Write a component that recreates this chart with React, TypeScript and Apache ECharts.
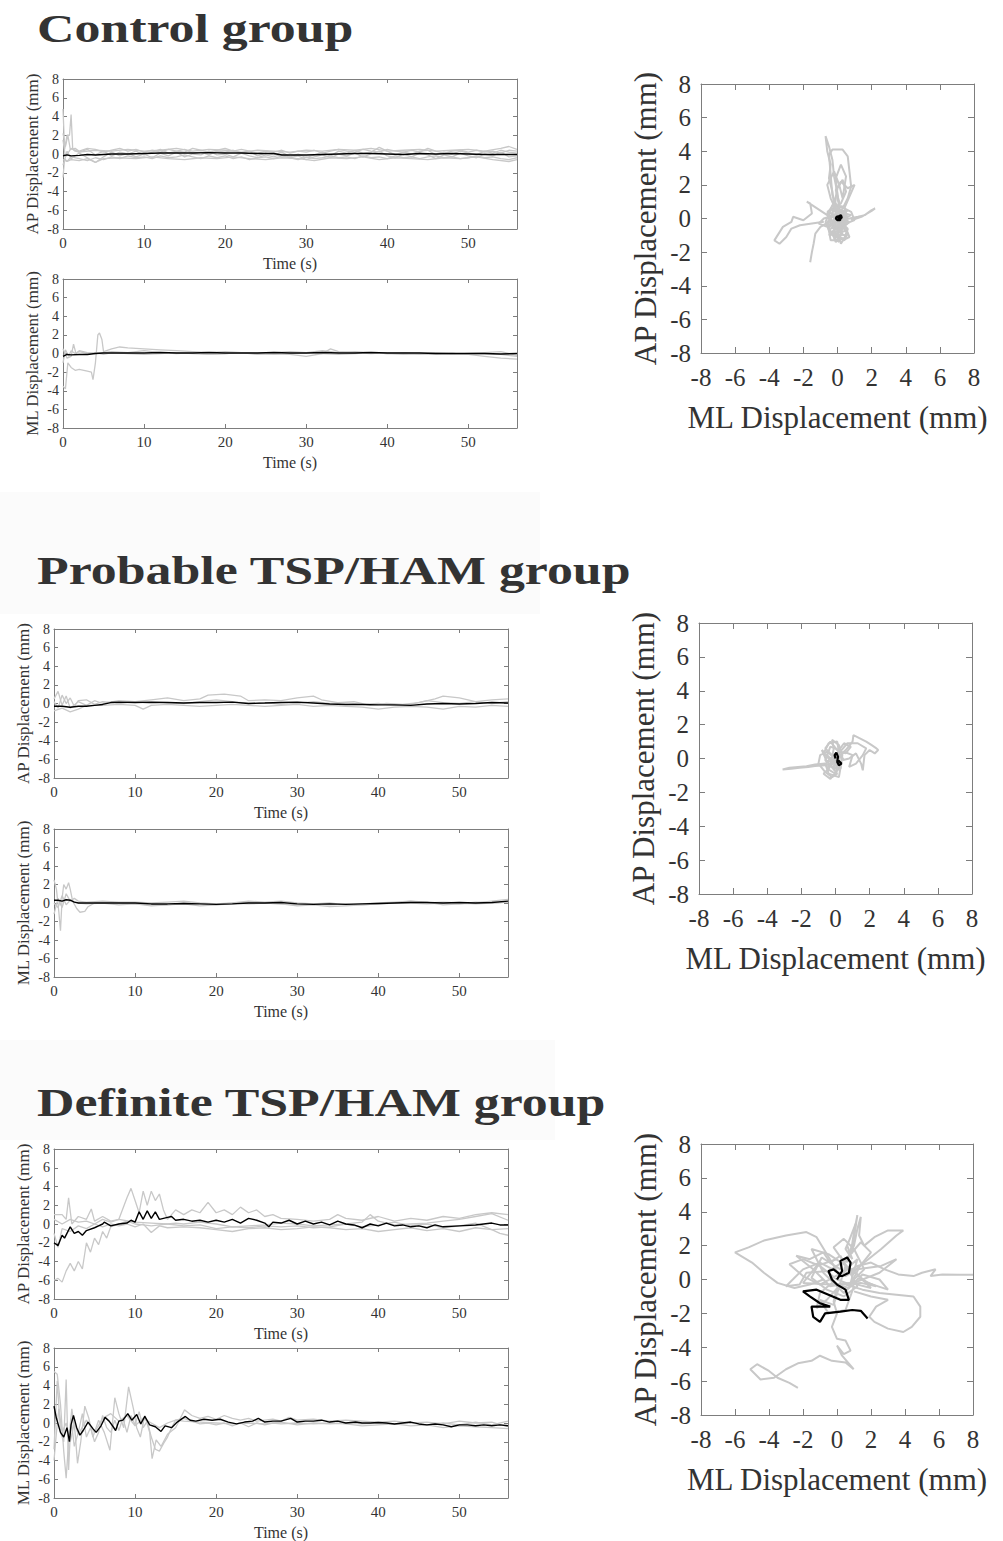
import React, { useEffect, useRef } from 'react';
import * as echarts from 'echarts';

type P = [number, number][];

// ---------- Titles ----------
const TITLES = ['Control group', 'Probable TSP/HAM group', 'Definite TSP/HAM group'];
const TS_X_TICKS = [0, 10, 20, 30, 40, 50];

// ---------- Control group: AP vs time ----------
const ctrlApMean: P = [[0,-0.2],[0.5,-0.1],[1,-0.2],[2,-0.15],[3,-0.05],[4,-0.1],[5,-0.05],[6,0],[8,0],[10,0.05],[12,0.1],[14,0.1],[16,0.1],[18,0.15],[20,0.1],[22,0.1],[24,0.05],[26,0.05],[27,-0.1],[30,-0.1],[32,-0.05],[34,0],[36,0.05],[38,0.05],[40,0],[42,-0.05],[44,0.05],[46,0],[48,0.05],[50,0],[52,-0.05],[54,-0.05],[56,-0.05]];
const ctrlApG1: P = [[0,4.8],[0.2,0.5],[0.5,2],[0.8,2.0],[1.0,4.2],[1.2,0.5],[1.5,0.3],[2,0.2],[4,0.4],[6,0.3],[8,0.5],[10,0.3],[12,0.4],[14,0.6],[16,0.3],[18,0.5],[20,0.4],[22,0.2],[24,0.4],[26,0.3],[28,0.2],[30,0.4],[32,0.3],[34,0.5],[36,0.4],[38,0.6],[40,0.3],[42,0.4],[44,0.5],[46,0.3],[48,0.4],[50,0.5],[52,0.3],[54,0.6],[55,0.8],[56,0.5]];
const ctrlApG2: P = [[0,-2.5],[0.2,-0.5],[0.5,-0.8],[1,-0.6],[2,-0.7],[3,-0.5],[4,-0.9],[5,-0.5],[7,-0.4],[9,-0.5],[11,-0.3],[13,-0.5],[15,-0.6],[17,-0.4],[19,-0.5],[21,-0.3],[23,-0.5],[25,-0.6],[27,-0.4],[29,-0.5],[31,-0.7],[33,-0.4],[35,-0.5],[37,-0.3],[39,-0.6],[41,-0.4],[43,-0.5],[45,-0.6],[47,-0.4],[49,-0.5],[51,-0.3],[53,-0.6],[55,-0.8],[56,-0.6]];
const ctrlApG3: P = [[0,1.5],[0.3,-0.3],[1,0.6],[2,0.2],[3,0.5],[4,-0.1],[5,0.3],[6,-0.2],[7,0.2],[8,0],[9,0.3],[10,-0.1],[11,0.2],[12,0.5],[13,0.1],[14,0.3],[15,0.5],[16,0.1],[17,0.2],[18,-0.1],[19,0.3],[20,0.2],[21,0.4],[22,0.1],[23,0.3],[24,-0.2],[25,0.1],[26,-0.1],[27,0.2],[28,-0.3],[29,0],[30,-0.4],[31,-0.1],[32,0.2],[33,-0.2],[34,0.3],[35,0.1],[36,0.4],[37,0.1],[38,0.2],[39,0.7],[40,0.3],[41,-0.1],[42,0.2],[43,0],[44,0.3],[45,0.4],[46,-0.1],[47,0.2],[48,0],[49,0.3],[50,0.1],[51,-0.1],[52,0.3],[53,0.1],[54,0.4],[55,0.2],[56,0.1]];
const ctrlApG4: P = [[0,-1.2],[0.5,0.3],[1,-0.5],[2,0.1],[3,-0.4],[4,-0.9],[5,-0.3],[6,0.2],[7,-0.2],[8,0.1],[9,-0.3],[10,0],[11,-0.4],[12,0.1],[13,-0.2],[14,0.2],[15,-0.3],[16,0],[17,-0.1],[18,0.3],[19,-0.1],[20,0],[21,-0.3],[22,0.1],[23,-0.2],[24,-0.4],[25,-0.1],[26,-0.3],[27,0],[28,-0.4],[29,-0.2],[30,-0.6],[31,-0.3],[32,-0.1],[33,-0.4],[34,0],[35,-0.2],[36,0.1],[37,-0.3],[38,0],[39,0.3],[40,-0.2],[41,-0.4],[42,0],[43,-0.3],[44,0.1],[45,-0.1],[46,-0.5],[47,-0.1],[48,-0.3],[49,0.1],[50,-0.2],[51,-0.4],[52,0],[53,-0.2],[54,0.2],[55,-0.3],[56,-0.2]];
const ctrlApG5: P = [[0,2.2],[0.3,0.8],[0.6,2.0],[0.9,0.5],[1.5,0.6],[2,0.3],[3,0.6],[4,0.5],[5,0.2],[6,0.4],[7,0.6],[8,0.3],[9,0.5],[10,0.2],[11,0.4],[12,0.2],[13,0.5],[14,0.3],[15,0.2],[16,0.6],[17,0.4],[18,0.2],[19,0.4],[20,0.6],[21,0.3],[22,0.5],[23,0.3],[24,0.1],[25,0.3],[26,0.2],[27,0.4],[28,0.1],[29,0.3],[30,0.2],[31,0.4],[32,0.1],[33,0.3],[34,0.5],[35,0.3],[36,0.2],[37,0.5],[38,0.3],[39,0.2],[40,0.5],[41,0.3],[42,0.2],[43,0.4],[44,0.2],[45,0.6],[46,0.3],[47,0.1],[48,0.3],[49,0.4],[50,0.2],[51,0.4],[52,0.2],[53,0.3],[54,0.1],[55,0.4],[56,0.3]];
const ctrlApG6: P = [[0,-0.6],[0.5,-0.8],[1,-0.3],[2,-0.5],[3,-0.7],[4,-0.4],[5,-0.6],[6,-0.3],[7,-0.5],[8,-0.2],[9,-0.4],[10,-0.3],[11,-0.5],[12,-0.2],[13,-0.4],[14,-0.3],[15,-0.1],[16,-0.3],[17,-0.5],[18,-0.2],[19,-0.4],[20,-0.2],[21,-0.5],[22,-0.3],[23,-0.6],[24,-0.4],[25,-0.3],[26,-0.5],[27,-0.2],[28,-0.4],[29,-0.6],[30,-0.3],[31,-0.5],[32,-0.4],[33,-0.2],[34,-0.4],[35,-0.3],[36,-0.5],[37,-0.2],[38,-0.4],[39,-0.3],[40,-0.5],[41,-0.2],[42,-0.4],[43,-0.3],[44,-0.5],[45,-0.3],[46,-0.2],[47,-0.4],[48,-0.3],[49,-0.5],[50,-0.4],[51,-0.2],[52,-0.4],[53,-0.3],[54,-0.5],[55,-0.6],[56,-0.4]];

// ---------- Control group: ML vs time ----------
const ctrlMlMean: P = [[0,-0.3],[0.5,-0.1],[1,-0.15],[2,-0.1],[3,-0.1],[4,0],[5,0.05],[6,0.05],[8,0.05],[10,0.05],[12,0.1],[14,0.05],[16,0.05],[18,0.1],[20,0.05],[22,0.05],[24,0.05],[26,0.1],[28,0.05],[30,0.05],[32,0.1],[34,0.05],[36,0.05],[38,0.1],[40,0.05],[42,0.05],[44,0.05],[46,0],[48,0],[50,0],[52,0],[54,-0.05],[56,0]];
const ctrlMlG1: P = [[0,-3.5],[0.3,-3.8],[0.6,-1],[1,-1.5],[1.5,-1.8],[2,-1.7],[3,-1.9],[3.5,-2.0],[3.7,-2.8],[4,-1],[4.3,2.0],[4.5,2.2],[4.8,1.5],[5,0.2],[6,0.5],[7,0.7],[8,0.6],[10,0.5],[12,0.4],[14,0.3],[16,0.2],[18,0.1],[20,0.2],[22,0.1],[24,0],[26,0.1],[28,0.2],[30,0.1],[32,0.3],[34,0.1],[36,0.2],[38,0.1],[40,0],[42,0.1],[44,0],[46,-0.1],[48,0],[50,-0.1],[52,-0.3],[54,-0.5],[56,-0.6]];
const ctrlMlG2: P = [[0,0.5],[0.5,-0.5],[1,-0.3],[1.3,1.0],[1.6,0],[2,0.3],[3,0.1],[4,0],[6,0.2],[8,0.1],[10,0.3],[12,0.1],[14,0],[16,0.1],[18,-0.1],[20,0],[22,0.1],[24,-0.1],[26,0],[28,-0.1],[30,-0.3],[32,0],[33,0.5],[34,0.2],[36,0.1],[38,0],[40,0.1],[42,0],[44,-0.1],[46,0],[48,-0.1],[50,0],[52,0.1],[54,0.2],[56,-0.2]];
const ctrlMlG3: P = [[0,-1],[0.3,0.4],[0.7,-0.3],[1,0.3],[1.5,0],[2,0.2],[3,0],[4,0.1],[5,-0.1],[6,0.1],[8,0],[10,-0.1],[12,0],[14,0.1],[16,0],[18,-0.1],[20,0],[22,0.1],[24,0],[26,-0.1],[28,0],[30,0.1],[32,0],[34,-0.1],[36,0],[38,0.1],[40,0],[42,-0.1],[44,0],[46,0.1],[48,0],[50,-0.1],[52,0],[54,-0.1],[56,-0.3]];

// ---------- Control group: AP vs ML ----------
const ctrlXyMean: P = [[0,0],[0.1,0.1],[0.2,0.05],[0.15,-0.1],[0,-0.1],[-0.1,0],[-0.05,0.1],[0.1,0.15],[0.2,0.2],[0.25,0.05],[0.1,-0.05],[0,0]];
const ctrlXyG1: P = [[0,0],[-0.2,0.8],[-0.3,1.6],[-0.5,2.4],[-0.4,3.2],[-0.6,4.0],[-0.7,4.9],[-0.5,4.3],[-0.3,3.5],[-0.2,2.5],[0,1.5],[0.1,0.5]];
const ctrlXyG2: P = [[0.1,0.4],[-0.3,1.4],[-0.4,2.6],[-0.5,3.8],[-0.3,4.1],[0.3,4.1],[0.6,3.7],[0.7,2.8],[0.8,1.9],[0.6,1.2],[0.3,0.6],[0,0.2]];
const ctrlXyG3: P = [[0.2,-0.1],[0.7,0.0],[1.2,0.1],[1.6,0.2],[2.0,0.5],[2.2,0.6],[2.0,0.45],[1.4,0.1],[0.8,-0.1]];
const ctrlXyG4: P = [[0,0],[-0.6,0.2],[-1.2,0.6],[-1.8,1.0],[-1.6,0.9],[-1.5,0.3],[-2.0,-0.1],[-2.6,0.1],[-2.7,-0.2],[-3.2,-0.5],[-3.7,-1.3],[-3.4,-1.5],[-3.0,-1.1],[-2.7,-0.6],[-2.2,-0.4],[-1.5,-0.3],[-0.8,-0.2]];
const ctrlXyG5: P = [[0,0],[-0.5,-0.2],[-1.0,-0.5],[-1.3,-0.9],[-1.4,-1.5],[-1.5,-2.0],[-1.6,-2.6]];
const ctrlXyG6: P = [[0,0],[0.4,0.3],[-0.3,0.6],[0.5,-0.4],[-0.4,-0.6],[0.6,0.5],[-0.5,0.1],[0.3,-0.9],[-0.2,-1.2],[0.1,-1.4],[0.0,-0.8],[0.7,-0.2],[-0.6,0.4],[0.2,0.9],[0.5,1.6],[0.3,2.3],[0.0,1.8],[-0.3,0.3],[0.6,-0.7],[-0.5,-1.0],[0.4,0.0],[-0.2,0.5],[0.8,0.2],[-0.3,-0.3],[0.2,-0.6],[0,0]];
const ctrlXyG7: P = [[0,0],[0.3,-0.5],[0.6,-0.9],[0.4,-1.3],[-0.1,-1.1],[-0.5,-0.7],[-0.7,-0.2],[-0.4,0.5],[0.2,0.7],[0.8,0.4],[1.0,-0.1],[0.5,-0.3],[-0.2,0.2],[-0.8,0.0],[-1.1,-0.3],[-0.6,-0.5],[0,-0.2]];
const ctrlXyG8: P = [[0,0.2],[0.1,1.0],[-0.1,1.7],[0.2,2.2],[0.6,1.8],[1.0,2.0],[0.7,1.3],[0.4,0.6]];
const ctrlXyG9: P = [[0,0],[-0.3,-0.4],[0.2,-0.8],[0.5,-0.3],[0.3,0.4],[-0.2,0.9],[-0.6,0.3],[-0.4,-0.3],[0.1,-0.5],[0.6,0.1],[0.2,0.5],[-0.1,0]];
const ctrlXyG10: P = [[0,0],[0.2,-1.0],[-0.1,-1.4],[-0.3,-0.9],[0.1,-0.3],[0.5,-0.6],[0.7,-1.1],[0.3,-1.3]];
const ctrlXyG11: P = [[0,0.3],[-0.4,1.2],[-0.6,2.0],[-0.2,2.8],[0.1,2.0],[0.3,1.2],[0.5,2.5],[0.2,3.2],[-0.1,2.4],[0,1.0]];
const ctrlXyG12: P = [[0,-0.2],[-0.5,-0.5],[-0.3,-1.0],[0.4,-1.2],[0.6,-0.6],[0.2,-0.2],[-0.5,0.2],[-0.3,0.8],[0.4,0.7],[0.5,0.1],[-0.2,-0.7],[0.1,-1.3],[-0.4,-1.3],[-0.6,-0.2],[0,0.4]];
const ctrlXyG13: P = [[-0.2,0],[0.3,-0.6],[-0.4,-0.9],[0.5,-1.0],[0.2,-1.5],[-0.1,-0.4],[0.6,-0.3],[0.3,0.3],[-0.6,-0.5],[-0.2,0.6],[0.5,0.4],[0,-0.1]];

// ---------- Probable group: AP vs time ----------
const probApMean: P = [[0,-0.3],[1,-0.3],[2,-0.4],[3,-0.3],[4,-0.3],[5,-0.2],[6,-0.1],[7,0.1],[8,0.15],[10,0.1],[12,0.15],[14,0.1],[16,0.05],[18,0.1],[20,0.1],[22,0.15],[24,0],[26,0.05],[28,0.1],[30,0.15],[32,0.05],[34,-0.05],[36,-0.1],[38,-0.1],[40,-0.15],[42,-0.15],[44,-0.2],[46,-0.05],[48,0],[50,-0.05],[52,0],[54,0.1],[56,0.05]];
const probApG1: P = [[0,0.5],[0.5,1.3],[1,-0.2],[1.5,0.8],[2,-0.5],[3,0.2],[4,-0.2],[5,0.3],[6,0],[8,0.3],[10,0.2],[12,0.4],[14,0.6],[16,0.3],[18,0.5],[19,0.9],[21,1.0],[23,0.8],[24,0.3],[26,0.4],[28,0.3],[30,0.6],[32,0.8],[33,0.4],[35,0.1],[37,0.2],[39,-0.2],[41,0],[43,-0.1],[45,0.1],[47,0.5],[48,0.8],[50,0.6],[52,0.2],[54,0.4],[56,0.5]];
const probApG2: P = [[0,-0.8],[1,-0.5],[2,-0.9],[3,-0.6],[4,-0.2],[6,-0.2],[8,-0.1],[10,-0.2],[11,-0.6],[12,-0.2],[14,-0.1],[16,-0.2],[18,-0.3],[20,-0.2],[22,-0.1],[24,-0.2],[26,-0.3],[28,-0.2],[30,-0.1],[32,-0.3],[34,-0.2],[36,-0.3],[38,-0.4],[40,-0.6],[42,-0.4],[44,-0.3],[46,-0.4],[48,-0.6],[50,-0.3],[52,-0.4],[54,-0.2],[56,-0.3]];
const probApG3: P = [[0,0.2],[0.5,-0.5],[1,0.9],[1.5,0],[2,0.6],[2.5,-0.3],[3,0.3],[4,0.4],[5,-0.1],[6,0.2],[8,0],[10,0.2],[12,0],[14,0.1],[16,0],[18,0.2],[20,0.4],[22,0.2],[24,0],[26,0.1],[28,-0.1],[30,0],[32,0.2],[34,0],[36,0.1],[38,-0.1],[40,0],[42,-0.2],[44,-0.1],[46,0.3],[48,0.1],[50,0],[52,0.2],[54,0],[56,0.2]];

// ---------- Probable group: ML vs time ----------
const probMlMean: P = [[0,0.3],[0.5,0.3],[1,0.2],[1.5,0.35],[2,0.3],[2.5,0.1],[3,0],[4,0],[6,0],[8,0],[10,0],[12,-0.1],[14,-0.1],[16,-0.05],[18,-0.1],[20,-0.15],[22,-0.1],[24,0],[26,0],[28,0.05],[30,-0.1],[32,-0.15],[34,-0.1],[36,-0.15],[38,-0.1],[40,-0.05],[42,0],[44,0.05],[46,0.05],[48,0],[50,0.05],[52,0],[54,0.05],[56,0.2]];
const probMlG1: P = [[0,2.5],[0.3,1.5],[0.6,-1],[0.8,-3],[1,0.5],[1.2,2],[1.5,1.5],[1.8,2.2],[2,1.5],[2.3,0.2],[2.8,-0.6],[3.2,-1.0],[3.8,-0.9],[4.2,-0.4],[5,0],[6,0.1],[8,0],[10,-0.1],[12,-0.2],[14,-0.2],[16,-0.1],[18,-0.3],[20,-0.2],[22,-0.1],[24,0.1],[26,0],[28,-0.1],[30,-0.3],[32,-0.2],[34,-0.4],[36,-0.3],[38,-0.2],[40,-0.1],[42,0],[44,0.2],[46,0.1],[48,-0.2],[50,-0.1],[52,0],[54,0.2],[56,0.4]];
const probMlG2: P = [[0,-1.2],[0.5,0.5],[1,-0.5],[1.5,1.0],[2,0.2],[2.5,0.5],[3,0.2],[4,0.1],[6,0.2],[8,0.1],[10,0.1],[12,0],[14,0.1],[16,0.2],[18,0],[20,-0.1],[22,0],[24,0.2],[26,0.1],[28,0.2],[30,0],[32,-0.1],[34,0],[36,-0.2],[38,-0.1],[40,0],[42,0.1],[44,0.2],[46,0],[48,0.1],[50,0],[52,-0.1],[54,0],[56,0.1]];
const probMlG3: P = [[0,0],[0.5,-0.5],[1,0.8],[1.5,-0.2],[2,0.3],[3,0],[4,-0.1],[6,0],[8,-0.2],[10,-0.1],[12,-0.3],[14,-0.2],[16,0],[18,-0.1],[20,-0.2],[22,0],[24,-0.1],[26,0],[28,-0.1],[30,-0.2],[32,-0.1],[34,-0.2],[36,-0.1],[38,-0.2],[40,-0.1],[42,0],[44,0],[46,-0.1],[48,0],[50,-0.1],[52,0.1],[54,0],[56,0.1]];

// ---------- Probable group: AP vs ML ----------
const probXyMean: P = [[0,0],[-0.05,0.2],[0.05,0.35],[0.15,0.1],[0.1,-0.2],[0.2,-0.4],[0.35,-0.3],[0.2,-0.15],[0.05,-0.05]];
const probXyG1: P = [[0,-0.3],[-0.6,-0.4],[-1.2,-0.45],[-1.6,-0.5],[-2.1,-0.55],[-2.6,-0.6],[-3.1,-0.65],[-2.7,-0.55],[-2.2,-0.5],[-1.7,-0.45],[-1.2,-0.35],[-0.6,-0.3]];
const probXyG2: P = [[0.2,0.1],[0.6,0.5],[1.0,1.0],[1.05,1.38],[1.4,1.2],[1.8,1.0],[2.1,0.8],[2.4,0.6],[2.5,0.5],[2.3,0.3],[2.0,0.5],[1.7,0.2],[1.6,-0.7],[1.5,-0.3],[1.2,0.3],[0.8,0.0],[0.4,-0.1]];
const probXyG3: P = [[0.1,0.2],[0.7,0.9],[1.3,0.9],[1.8,0.6],[1.6,0.2],[1.2,-0.3],[0.8,-0.5],[1.0,0.2],[0.5,0.4],[0.2,0]];
const probXyG4: P = [[0,0],[-0.5,0.4],[-0.9,0.2],[-1.0,-0.3],[-0.6,-0.8],[-0.2,-1.1],[0.1,-0.9],[-0.3,-0.4],[-0.1,0.6],[-0.2,1.1],[0.2,0.8],[0.4,0.2],[0.3,-0.6],[-0.4,0.1],[-0.8,0.5],[-0.5,-0.2],[0,0.3],[0.2,-0.3],[-0.1,-0.7],[0,0]];
const probXyG5: P = [[0,0],[0.3,0.4],[0.6,0.3],[0.9,0.7],[0.5,0.9],[0.2,0.5],[-0.3,0.7],[-0.6,-0.1],[-0.2,-0.5],[0.3,-0.2]];
const probXyG6: P = [[0,0],[-0.4,-0.6],[-0.7,-0.9],[-0.3,-1.2],[0.2,-0.6],[-0.2,0.2],[-0.6,0.6],[-0.3,1.0],[0.1,0.5],[0.5,-0.1]];
const probXyG7: P = [[0,0],[-0.6,-0.3],[-0.4,-0.9],[0.2,-1.1],[0.3,-0.5],[-0.2,-0.2],[-0.7,0.3],[-0.4,0.9],[0.1,1.0],[0.2,0.4],[-0.5,-0.6],[0,-0.9],[0.3,0.2]];

// ---------- Definite group: AP vs time ----------
const defApMean: P = [[0,-2],[0.5,-2.3],[1,-1.2],[1.3,-1.5],[2,-0.3],[2.5,-1.0],[3,-0.8],[3.5,-1.2],[4,-0.7],[5,-0.4],[5.5,-0.2],[6,0],[6.2,0.2],[7,-0.2],[8,0],[9,0.1],[9.5,0.4],[10,0.2],[10.5,1.3],[11,0.5],[11.5,1.4],[12,0.6],[12.5,1.3],[13,0.5],[14,0.7],[14.5,0.8],[15,0.4],[16,0.5],[17,0.3],[18,0.4],[19,0.2],[20,0.4],[21,0.2],[22,0.5],[23,0.1],[24,0.6],[25,0.4],[26,0.1],[26.5,-0.3],[27,0.2],[28,0.1],[29,0.4],[30,0],[31,0.3],[32,0],[33,0.2],[34,-0.1],[35,0.3],[36,0],[37,-0.1],[38,-0.4],[39,0],[40,-0.2],[41,0.1],[42,-0.2],[43,-0.1],[44,-0.3],[45,-0.2],[46,-0.4],[47,-0.1],[48,-0.3],[50,-0.2],[52,-0.1],[54,0.1],[55,-0.1],[56,-0.1]];
const defApG1: P = [[0,-6],[0.5,-5.8],[1,-6.2],[1.5,-5],[2,-4.2],[2.5,-5],[3,-4],[3.5,-4.8],[4,-2],[4.5,-3],[5,-1.5],[5.5,-2.2],[6,-0.8],[6.5,-1.5],[7,-0.3],[8,0],[9,0.3],[10,0],[11,-0.1],[12,-0.2],[13,-0.1],[14,0],[15,0.1],[16,0],[18,0.2],[20,0],[22,-0.3],[24,-0.2],[26,-0.1],[28,0.1],[30,0],[32,-0.2],[34,-0.1],[36,0],[38,-0.3],[40,-0.1],[42,0.2],[44,-0.2],[46,0],[48,-0.4],[50,-0.2],[52,0.1],[54,-0.6],[55,-1.0],[56,-1.2]];
const defApG2: P = [[0,0.5],[1,0],[2,0.5],[3,0.2],[4,0.3],[5,0],[6,0.5],[7,0.2],[8,0.5],[9,2.8],[9.5,3.8],[10,2.5],[10.5,1.2],[11,3.5],[11.5,2],[12,3.5],[12.5,2.5],[13,3.2],[13.5,1.5],[14,0.5],[15,1.5],[16,1.0],[17,1.5],[18,1.2],[19,2.3],[20,1.2],[21,1.5],[22,1.0],[23,1.8],[24,1.2],[25,1.5],[26,0.8],[27,1.0],[28,0.6],[30,0.5],[32,0.3],[34,0.5],[35,1.0],[36,0.6],[38,0.4],[40,0.8],[42,0.3],[44,0.6],[46,0.4],[48,0.8],[50,0.6],[52,1.0],[54,1.2],[56,1.0]];
const defApG3: P = [[0,1.0],[1,1.0],[1.5,0.5],[1.8,2.8],[2.2,0],[3,0.8],[4,0.5],[4.6,1.6],[5,0.3],[6,0.8],[7,0.3],[8,0.5],[10,0.2],[12,0.1],[14,0],[16,-0.2],[18,-0.1],[20,-0.5],[22,-0.3],[24,-0.4],[26,-0.2],[28,-0.3],[30,-0.2],[32,-0.4],[34,-0.3],[36,0],[38,0.2],[39,1.0],[40,0.3],[42,-0.1],[44,0],[46,0.1],[48,0.3],[50,0.5],[52,0.8],[54,1.1],[56,0.4]];
const defApG4: P = [[0,-1.0],[0.5,-2.5],[1,-0.5],[2,-0.8],[3,-0.2],[4,-0.5],[5,0],[6,-0.3],[7,0],[8,-0.2],[9,0],[10,-0.3],[11,0],[12,-0.9],[13,-0.2],[14,-0.4],[16,-0.3],[18,-0.4],[20,-0.6],[22,-0.8],[24,-0.5],[26,-0.4],[28,-0.6],[30,-0.5],[32,-0.3],[34,-0.4],[36,-0.6],[38,-0.5],[40,-0.8],[42,-0.6],[44,-0.4],[46,-0.7],[48,-0.5],[50,-0.8],[52,-0.4],[54,-0.6],[56,-0.5]];

// ---------- Definite group: ML vs time ----------
const defMlMean: P = [[0,1.8],[0.3,0.5],[0.8,-1.0],[1.2,-1.5],[1.6,-0.5],[1.9,-2.0],[2.1,-0.2],[2.4,0.8],[2.8,-0.5],[3.2,-1.3],[3.6,-0.8],[4.2,0.1],[4.8,-0.6],[5.2,-1.0],[5.8,-0.3],[6.3,0.6],[6.8,0.2],[7.3,-0.4],[7.6,-0.8],[8,0.2],[8.5,0.3],[9.1,1.0],[9.6,0.3],[10.2,0.9],[10.7,-0.1],[11.2,0.7],[11.8,-0.2],[12.5,-0.4],[13.2,-0.9],[13.7,-0.3],[14.5,-0.5],[15.2,0.1],[16.2,0.7],[16.8,0.3],[17.5,0.2],[18.5,0.4],[19.5,0.3],[20.5,0.4],[21.5,0.1],[22.5,-0.1],[23.5,0.1],[24.5,0.2],[25.2,0.5],[26,0.1],[27,0.2],[28,0.2],[29.2,0.5],[30,0.1],[31,0.2],[32,0.2],[33,0.3],[34,0.1],[35,0.2],[36,0],[37.2,0.1],[38,0],[39,0],[40,0.05],[41,0],[42,-0.1],[43,0],[44,0.1],[45,-0.1],[46,-0.2],[47,-0.1],[48,-0.2],[49,-0.4],[50,-0.2],[51,-0.2],[52,-0.3],[53,-0.2],[54,-0.3],[55,-0.2],[56,-0.3]];
const defMlG1: P = [[0,5.5],[0.4,5.2],[0.8,2],[1.2,-3],[1.5,-5.9],[1.8,-2],[2.2,1.5],[2.6,-1],[2.9,-4.3],[3.3,-2],[3.8,1.8],[4.3,0.5],[4.8,-1.5],[5.5,0.3],[6.2,-1],[6.9,-2.9],[7.5,2.7],[8,1],[8.6,-0.5],[9.2,3.85],[9.8,1.5],[10.2,-0.5],[10.65,-1.5],[11.2,0.8],[11.8,-1],[12.1,-3.8],[12.6,-1.8],[13.2,-2.5],[14,-1.2],[15,-0.5],[16.1,1.4],[17,0.8],[18,0.5],[19,0.7],[20,0.4],[21,0.8],[22,0.5],[23,0.3],[24,0.5],[25,0.2],[26,0.3],[27,0.4],[28,0.2],[29,0.6],[30,0.3],[32,0.4],[34,0.2],[36,0.3],[38,0.2],[40,0.1],[42,0.2],[44,0],[46,0.1],[48,-0.1],[50,0.2],[52,0],[54,0.1],[56,-0.4]];
const defMlG2: P = [[0,-2.8],[0.4,4.5],[0.8,-1],[1.2,-2],[1.5,4.65],[1.8,-5],[2.1,0.5],[2.5,-2.5],[3,-1],[3.5,1],[4,-1.5],[4.5,-0.5],[5,-2],[5.5,-1],[6,0.8],[6.5,-0.5],[7,-1],[7.5,0.3],[8,-0.8],[8.5,0.5],[9,-1],[9.5,0.8],[10,-0.2],[10.5,1.2],[11,-0.5],[11.5,0.2],[12,-1.5],[12.5,-2.8],[13,-3],[13.5,-2.2],[14,-1.5],[14.5,-0.5],[15,0.3],[16,0.5],[17,0.2],[18,-0.1],[19,0],[20,-0.2],[21,0],[22,-0.3],[23,0],[24,-0.4],[25,0],[26,-0.2],[27,0],[28,-0.1],[30,0],[32,-0.1],[34,0],[36,-0.1],[38,-0.3],[40,-0.2],[42,-0.1],[44,-0.3],[46,-0.2],[48,-0.5],[50,-0.3],[52,-0.4],[54,-0.5],[56,-0.6]];
const defMlG3: P = [[0,-4],[0.3,-1],[0.6,1.5],[1,-1],[1.5,0],[2,-2],[2.5,0],[3,-1.2],[4,0.3],[5,-1],[6,0.5],[7,1],[8,0.2],[9,0.8],[10,-0.3],[11,0.5],[12,0],[13,-0.5],[14,0],[15,0.3],[16,0.2],[18,0.1],[20,0],[22,-0.1],[24,0],[26,-0.1],[28,0.1],[30,-0.2],[32,0],[34,-0.1],[36,0],[38,-0.1],[40,0],[42,-0.1],[44,0],[46,-0.2],[48,0],[50,-0.2],[52,0.1],[54,-0.2],[56,0.2]];

// ---------- Definite group: AP vs ML ----------
const defXyMean: P = [[0,0],[0.3,0.5],[0.2,1.1],[0.6,1.3],[0.8,1.0],[0.7,0.4],[0.3,0.2],[-0.2,0.6],[-0.5,0.5],[-0.3,0],[0,-0.3],[0.5,-0.6],[0.7,-1.2],[0.2,-1.2],[-0.5,-0.9],[-1.2,-0.6],[-2.0,-0.7],[-1.6,-1.0],[-1.0,-1.4],[-0.4,-1.6],[-1.5,-1.6],[-1.4,-2.2],[-1.0,-2.5],[-0.7,-2.0],[0.2,-1.9],[0.9,-1.8],[1.4,-1.85],[1.8,-2.3]];
const defXyG1: P = [[0,0.5],[-0.6,1.5],[-1.2,2.5],[-1.8,2.8],[-3.0,2.6],[-4.3,2.3],[-5.2,1.9],[-6.0,1.6],[-5.0,1.0],[-4.3,0.4],[-3.5,-0.2],[-2.5,-0.5],[-1.6,-0.3],[-0.8,0]];
const defXyG2: P = [[0.3,0.2],[1.2,0.8],[2.0,1.0],[2.8,0.6],[3.6,0.3],[4.5,0.2],[5.0,0.4],[5.8,0.6],[5.5,0.2],[6.2,0.3],[7.2,0.28],[8.0,0.28]];
const defXyG3: P = [[0.5,1.0],[1.0,2.0],[1.2,3.0],[1.4,3.7],[1.3,2.6],[1.6,2.0],[2.2,2.5],[3.0,2.9],[3.9,2.9],[3.5,2.6],[2.6,1.8],[1.6,1.0],[0.8,0.3]];
const defXyG4: P = [[0.5,-0.3],[1.5,-0.6],[2.5,-0.8],[3.5,-0.9],[4.5,-1.0],[4.9,-1.6],[4.9,-2.2],[4.4,-2.8],[3.9,-3.1],[3.0,-2.9],[2.2,-2.5],[1.9,-2.2],[2.3,-1.6],[3.0,-1.2],[2.0,-1.0],[1.0,-0.7]];
const defXyG5: P = [[0,-0.5],[-0.2,-1.3],[0,-2.0],[-0.3,-2.8],[0,-3.5],[0.5,-3.6],[0.8,-4.2],[0.4,-4.4],[0,-3.9],[0.3,-4.5],[0.98,-5.3],[0.5,-4.9],[-0.3,-4.8],[-1.0,-4.5],[-1.5,-4.8],[-2.3,-4.95],[-3.0,-5.3],[-3.7,-5.8],[-4.5,-5.9],[-5.1,-5.3],[-4.7,-5.0],[-4.0,-5.4],[-3.5,-5.8],[-2.8,-6.1],[-2.3,-6.4]];
const defXyG6: P = [[0,0],[-1.0,0.8],[-2.0,1.2],[-2.8,0.9],[-2.0,0.2],[-1.0,-0.3],[0.3,0.4],[1.2,1.2],[0.8,-0.2],[2.0,-0.5],[1.0,0.5],[-0.5,1.5],[-1.5,1.8],[-0.8,0.4],[0.4,-0.8],[1.5,0.3],[2.5,0.0],[3.0,-0.6],[1.8,-0.2],[0.5,0.8],[-0.2,-1.5],[-1.0,-1.2],[-0.5,-2.0],[0.5,-1.8],[1.0,-0.4],[0,0]];
const defXyG7: P = [[0.8,2.5],[0.5,1.8],[0.9,1.2],[0.6,2.0],[1.1,3.3],[0.9,1.6],[0.3,1.0],[-0.5,0.5],[-1.8,0.4],[-2.2,-0.3],[-3.0,-0.4],[-2.0,0.6],[-1.0,1.0],[0.5,0.2],[1.3,0.7],[0.7,-0.5],[-0.3,-0.2],[-1.0,-0.8],[-1.2,-1.7],[-0.6,-1.2],[0.2,-0.3],[1.4,-0.2],[2.3,-0.4],[1.2,0.1]];
const defXyG8: P = [[0,0],[0.6,0.6],[0.2,1.4],[-0.4,1.0],[-0.8,1.6],[-1.6,1.2],[-2.4,1.4],[-1.4,0.6],[-0.4,-0.4],[0.8,-0.2],[1.6,0.6],[1.0,1.8],[0.4,2.4],[-0.2,1.9],[0.5,0.9],[1.2,-0.4],[0.4,-1.0],[-0.6,-0.6],[-1.5,0.1],[-0.9,1.3],[0.2,0.6]];
const defXyG9: P = [[0.6,1.0],[1.0,2.5],[1.2,3.8],[1.0,2.8],[0.8,1.5],[1.4,2.2],[2.0,1.6],[1.2,0.6],[2.6,0.8],[3.5,1.2],[2.5,0.4],[1.0,-0.2],[-0.4,-0.3],[-2.0,-0.2],[-1.2,0.8],[0,1.2]];

// ---------- styling ----------
const GRAY = '#c8c8c8';
const BLACK = '#000000';
const AXIS = '#7d7d7d';
const TXT = '#333333';
const FONT = 'Liberation Serif';

interface Panel {
  left: number; top: number; width: number; height: number;
  kind: 'time' | 'xy';
  yName: string;
  grays: P[];
  mean: P;
}

const PANELS: Panel[] = [
  { left: 63, top: 79, width: 454, height: 150, kind: 'time', yName: 'AP Displacement (mm)', grays: [ctrlApG1, ctrlApG2, ctrlApG3, ctrlApG4, ctrlApG5, ctrlApG6], mean: ctrlApMean },
  { left: 63, top: 279, width: 454, height: 149, kind: 'time', yName: 'ML Displacement (mm)', grays: [ctrlMlG1, ctrlMlG2, ctrlMlG3], mean: ctrlMlMean },
  { left: 701, top: 84, width: 273, height: 269, kind: 'xy', yName: 'AP Displacement (mm)', grays: [ctrlXyG1, ctrlXyG2, ctrlXyG3, ctrlXyG4, ctrlXyG5, ctrlXyG6, ctrlXyG7, ctrlXyG8, ctrlXyG9, ctrlXyG10, ctrlXyG11, ctrlXyG12, ctrlXyG13], mean: ctrlXyMean },
  { left: 54, top: 629, width: 454, height: 149, kind: 'time', yName: 'AP Displacement (mm)', grays: [probApG1, probApG2, probApG3], mean: probApMean },
  { left: 54, top: 829, width: 454, height: 148, kind: 'time', yName: 'ML Displacement (mm)', grays: [probMlG1, probMlG2, probMlG3], mean: probMlMean },
  { left: 699, top: 623, width: 273, height: 271, kind: 'xy', yName: 'AP Displacement (mm)', grays: [probXyG1, probXyG2, probXyG3, probXyG4, probXyG5, probXyG6, probXyG7], mean: probXyMean },
  { left: 54, top: 1149, width: 454, height: 150, kind: 'time', yName: 'AP Displacement (mm)', grays: [defApG1, defApG2, defApG3, defApG4], mean: defApMean },
  { left: 54, top: 1348, width: 454, height: 150, kind: 'time', yName: 'ML Displacement (mm)', grays: [defMlG1, defMlG2, defMlG3], mean: defMlMean },
  { left: 701, top: 1144, width: 272, height: 271, kind: 'xy', yName: 'AP Displacement (mm)', grays: [defXyG1, defXyG2, defXyG3, defXyG4, defXyG5, defXyG6, defXyG7, defXyG8, defXyG9], mean: defXyMean },
];

const TITLE_POS = [
  { x: 37, y: 28 },
  { x: 37, y: 570 },
  { x: 37, y: 1102 },
];

function buildOption() {
  const grid: any[] = [];
  const xAxis: any[] = [];
  const yAxis: any[] = [];
  const series: any[] = [];

  PANELS.forEach((p) => {
    const gi = grid.length;
    grid.push({ left: p.left, top: p.top, width: p.width, height: p.height, containLabel: false, outerBoundsMode: 'none' });
    const isT = p.kind === 'time';
    const lineStyle = { color: AXIS, width: 1 };
    const tickLen = isT ? 4 : 6;
    const xMin = isT ? 0 : -8;
    const xMax = isT ? 56 : 8;
    const xInt = isT ? 10 : 2;
    const labelSizeX = isT ? 15 : 25;
    const labelSizeY = isT ? 14 : 25;
    const nameSizeX = isT ? 16 : 31;
    const nameSizeY = isT ? 17 : 31;

    const xi = xAxis.length;
    xAxis.push({
      gridIndex: gi, type: 'value', position: 'bottom', min: xMin, max: xMax, interval: xInt,
      axisLine: { show: true, onZero: false, lineStyle },
      axisTick: { show: true, inside: true, length: tickLen, lineStyle },
      splitLine: { show: false },
      axisLabel: {
        show: true, color: TXT, fontFamily: FONT, fontSize: labelSizeX, margin: isT ? 6 : 12,
        formatter: (v: number) => (isT ? (TS_X_TICKS.indexOf(v) >= 0 ? String(v) : '') : String(v)),
      },
      name: isT ? 'Time (s)' : 'ML Displacement (mm)',
      nameLocation: 'middle', nameGap: isT ? 26 : 49,
      nameTextStyle: { color: TXT, fontFamily: FONT, fontSize: nameSizeX },
    });
    xAxis.push({
      gridIndex: gi, type: 'value', position: 'top', min: xMin, max: xMax, interval: xInt,
      axisLine: { show: true, onZero: false, lineStyle },
      axisTick: { show: true, inside: true, length: tickLen, lineStyle },
      splitLine: { show: false }, axisLabel: { show: false },
    });
    const yi = yAxis.length;
    yAxis.push({
      gridIndex: gi, type: 'value', position: 'left', min: -8, max: 8, interval: 2,
      axisLine: { show: true, onZero: false, lineStyle },
      axisTick: { show: true, inside: true, length: tickLen, lineStyle },
      splitLine: { show: false },
      axisLabel: { show: true, color: TXT, fontFamily: FONT, fontSize: labelSizeY, margin: isT ? 4 : 10 },
      name: p.yName, nameLocation: 'middle', nameGap: isT ? 22 : 40,
      nameTextStyle: { color: TXT, fontFamily: FONT, fontSize: nameSizeY },
    });
    yAxis.push({
      gridIndex: gi, type: 'value', position: 'right', min: -8, max: 8, interval: 2,
      axisLine: { show: true, onZero: false, lineStyle },
      axisTick: { show: true, inside: true, length: tickLen, lineStyle },
      splitLine: { show: false }, axisLabel: { show: false },
    });

    p.grays.forEach((g) => {
      series.push({
        type: 'line', xAxisIndex: xi, yAxisIndex: yi, data: g, showSymbol: false, symbol: 'none',
        lineStyle: { color: GRAY, width: isT ? 1.3 : 2 }, silent: true, z: 2, clip: true,
      });
    });
    series.push({
      type: 'line', xAxisIndex: xi, yAxisIndex: yi, data: p.mean, showSymbol: false, symbol: 'none',
      lineStyle: { color: BLACK, width: isT ? 1.4 : 2.2 }, silent: true, z: 3, clip: true,
    });
  });

  const graphic: any[] = [
    { type: 'rect', shape: { x: 0, y: 492, width: 540, height: 122 }, style: { fill: '#fbfbfb' }, z: -10, silent: true },
    { type: 'rect', shape: { x: 0, y: 1040, width: 555, height: 100 }, style: { fill: '#fbfbfb' }, z: -10, silent: true },
  ];
  TITLES.forEach((t, i) => {
    graphic.push({
      type: 'text', x: TITLE_POS[i].x, y: TITLE_POS[i].y, scaleX: 1.265, scaleY: 1, silent: true, z: 10,
      style: {
        text: t, fontFamily: FONT, fontWeight: 'bold', fontSize: 41, fill: TXT,
        align: 'left', verticalAlign: 'middle',
      },
    });
  });

  return { animation: false, backgroundColor: '#ffffff', grid, xAxis, yAxis, series, graphic };
}

export default function App() {
  const ref = useRef<HTMLDivElement>(null);
  useEffect(() => {
    if (!ref.current) return;
    const chart = echarts.init(ref.current, null, { renderer: 'svg' });
    chart.setOption(buildOption() as any);
    return () => chart.dispose();
  }, []);
  return (
    <div
      ref={ref}
      style={{ position: 'absolute', left: 0, top: 0, width: 1003, height: 1541, background: '#fff' }}
    />
  );
}
